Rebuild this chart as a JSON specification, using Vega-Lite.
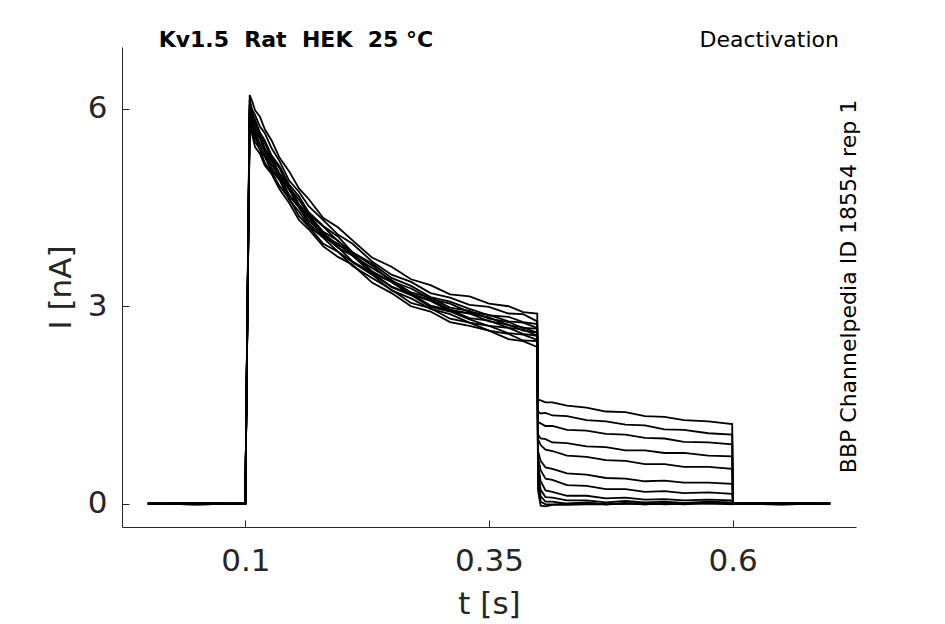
{
  "$schema": "https://vega.github.io/schema/vega-lite/v6.json",
  "width": 734,
  "height": 480,
  "autosize": "none",
  "padding": {"left": 122, "top": 47, "right": 89, "bottom": 97},
  "background": "white",
  "config": {"view": {"stroke": null}, "font": "DejaVu Sans"},
  "datasets": {
    "traces": [
      {"s":1,"t":0,"i":0},{"s":1,"t":0.05,"i":0.01},{"s":1,"t":0.1,"i":0},
      {"s":1,"t":0.1045,"i":6.21},{"s":1,"t":0.107,"i":6.12},{"s":1,"t":0.11,"i":5.98},{"s":1,"t":0.115,"i":5.88},{"s":1,"t":0.12,"i":5.69},{"s":1,"t":0.127,"i":5.52},{"s":1,"t":0.135,"i":5.26},{"s":1,"t":0.145,"i":5.05},{"s":1,"t":0.155,"i":4.79},{"s":1,"t":0.165,"i":4.63},{"s":1,"t":0.18,"i":4.34},{"s":1,"t":0.195,"i":4.2},{"s":1,"t":0.21,"i":4.0},{"s":1,"t":0.23,"i":3.74},{"s":1,"t":0.25,"i":3.6},{"s":1,"t":0.27,"i":3.41},{"s":1,"t":0.29,"i":3.32},{"s":1,"t":0.31,"i":3.18},{"s":1,"t":0.33,"i":3.15},{"s":1,"t":0.35,"i":3.04},{"s":1,"t":0.37,"i":3.0},{"s":1,"t":0.385,"i":2.91},{"s":1,"t":0.3995,"i":2.89},
      {"s":1,"t":0.4003,"i":0.2},{"s":1,"t":0.403,"i":-0.03},{"s":1,"t":0.408,"i":-0.04},{"s":1,"t":0.415,"i":-0.02},{"s":1,"t":0.43,"i":-0.02},{"s":1,"t":0.45,"i":-0.01},{"s":1,"t":0.47,"i":-0.01},{"s":1,"t":0.49,"i":0},{"s":1,"t":0.51,"i":-0.01},{"s":1,"t":0.53,"i":0},{"s":1,"t":0.55,"i":0.01},{"s":1,"t":0.575,"i":0},{"s":1,"t":0.5995,"i":0},
      {"s":1,"t":0.6003,"i":0},{"s":1,"t":0.65,"i":-0.01},{"s":1,"t":0.7,"i":0},

      {"s":2,"t":0,"i":0},{"s":2,"t":0.05,"i":-0.01},{"s":2,"t":0.1,"i":0},
      {"s":2,"t":0.1045,"i":6.14},{"s":2,"t":0.107,"i":5.99},{"s":2,"t":0.11,"i":5.91},{"s":2,"t":0.115,"i":5.73},{"s":2,"t":0.12,"i":5.63},{"s":2,"t":0.127,"i":5.4},{"s":2,"t":0.135,"i":5.21},{"s":2,"t":0.145,"i":4.91},{"s":2,"t":0.155,"i":4.74},{"s":2,"t":0.165,"i":4.52},{"s":2,"t":0.18,"i":4.31},{"s":2,"t":0.195,"i":4.09},{"s":2,"t":0.21,"i":3.95},{"s":2,"t":0.23,"i":3.68},{"s":2,"t":0.25,"i":3.48},{"s":2,"t":0.27,"i":3.37},{"s":2,"t":0.29,"i":3.2},{"s":2,"t":0.31,"i":3.13},{"s":2,"t":0.33,"i":3.02},{"s":2,"t":0.35,"i":2.99},{"s":2,"t":0.37,"i":2.89},{"s":2,"t":0.385,"i":2.88},{"s":2,"t":0.3995,"i":2.77},
      {"s":2,"t":0.4003,"i":0.3},{"s":2,"t":0.403,"i":0.03},{"s":2,"t":0.408,"i":-0.01},{"s":2,"t":0.415,"i":-0.01},{"s":2,"t":0.43,"i":0},{"s":2,"t":0.45,"i":0.01},{"s":2,"t":0.47,"i":-0.01},{"s":2,"t":0.49,"i":0},{"s":2,"t":0.51,"i":0.01},{"s":2,"t":0.53,"i":-0.01},{"s":2,"t":0.55,"i":0},{"s":2,"t":0.575,"i":0.01},{"s":2,"t":0.5995,"i":-0.01},
      {"s":2,"t":0.6003,"i":0},{"s":2,"t":0.65,"i":0.01},{"s":2,"t":0.7,"i":0},

      {"s":3,"t":0,"i":0},{"s":3,"t":0.05,"i":0},{"s":3,"t":0.1,"i":0},
      {"s":3,"t":0.1045,"i":6.07},{"s":3,"t":0.107,"i":5.94},{"s":3,"t":0.11,"i":5.84},{"s":3,"t":0.115,"i":5.64},{"s":3,"t":0.12,"i":5.52},{"s":3,"t":0.127,"i":5.29},{"s":3,"t":0.135,"i":5.13},{"s":3,"t":0.145,"i":4.85},{"s":3,"t":0.155,"i":4.67},{"s":3,"t":0.165,"i":4.43},{"s":3,"t":0.18,"i":4.22},{"s":3,"t":0.195,"i":4.06},{"s":3,"t":0.21,"i":3.82},{"s":3,"t":0.23,"i":3.65},{"s":3,"t":0.25,"i":3.43},{"s":3,"t":0.27,"i":3.31},{"s":3,"t":0.29,"i":3.14},{"s":3,"t":0.31,"i":3.07},{"s":3,"t":0.33,"i":2.96},{"s":3,"t":0.35,"i":2.86},{"s":3,"t":0.37,"i":2.84},{"s":3,"t":0.385,"i":2.76},{"s":3,"t":0.3995,"i":2.73},
      {"s":3,"t":0.4003,"i":0.4},{"s":3,"t":0.403,"i":0.11},{"s":3,"t":0.408,"i":0.03},{"s":3,"t":0.415,"i":0.03},{"s":3,"t":0.43,"i":0},{"s":3,"t":0.45,"i":0.02},{"s":3,"t":0.47,"i":-0.01},{"s":3,"t":0.49,"i":0.01},{"s":3,"t":0.51,"i":-0.01},{"s":3,"t":0.53,"i":0.01},{"s":3,"t":0.55,"i":-0.01},{"s":3,"t":0.575,"i":0.01},{"s":3,"t":0.5995,"i":0},
      {"s":3,"t":0.6003,"i":0},{"s":3,"t":0.65,"i":0},{"s":3,"t":0.7,"i":0},

      {"s":4,"t":0,"i":0},{"s":4,"t":0.05,"i":0.01},{"s":4,"t":0.1,"i":0},
      {"s":4,"t":0.1045,"i":6.04},{"s":4,"t":0.107,"i":5.88},{"s":4,"t":0.11,"i":5.79},{"s":4,"t":0.115,"i":5.59},{"s":4,"t":0.12,"i":5.48},{"s":4,"t":0.127,"i":5.26},{"s":4,"t":0.135,"i":5.1},{"s":4,"t":0.145,"i":4.8},{"s":4,"t":0.155,"i":4.62},{"s":4,"t":0.165,"i":4.4},{"s":4,"t":0.18,"i":4.21},{"s":4,"t":0.195,"i":3.99},{"s":4,"t":0.21,"i":3.82},{"s":4,"t":0.23,"i":3.62},{"s":4,"t":0.25,"i":3.38},{"s":4,"t":0.27,"i":3.27},{"s":4,"t":0.29,"i":3.11},{"s":4,"t":0.31,"i":3.04},{"s":4,"t":0.33,"i":2.91},{"s":4,"t":0.35,"i":2.87},{"s":4,"t":0.37,"i":2.77},{"s":4,"t":0.385,"i":2.75},{"s":4,"t":0.3995,"i":2.67},
      {"s":4,"t":0.4003,"i":0.5},{"s":4,"t":0.403,"i":0.21},{"s":4,"t":0.408,"i":0.1},{"s":4,"t":0.415,"i":0.09},{"s":4,"t":0.43,"i":0.05},{"s":4,"t":0.45,"i":0.05},{"s":4,"t":0.47,"i":0.02},{"s":4,"t":0.49,"i":0.04},{"s":4,"t":0.51,"i":0.02},{"s":4,"t":0.53,"i":0.03},{"s":4,"t":0.55,"i":0.01},{"s":4,"t":0.575,"i":0.03},{"s":4,"t":0.5995,"i":0.02},
      {"s":4,"t":0.6003,"i":0},{"s":4,"t":0.65,"i":0},{"s":4,"t":0.7,"i":0},

      {"s":5,"t":0,"i":0},{"s":5,"t":0.05,"i":-0.01},{"s":5,"t":0.1,"i":0},
      {"s":5,"t":0.1045,"i":6.01},{"s":5,"t":0.107,"i":5.88},{"s":5,"t":0.11,"i":5.72},{"s":5,"t":0.115,"i":5.6},{"s":5,"t":0.12,"i":5.4},{"s":5,"t":0.127,"i":5.25},{"s":5,"t":0.135,"i":5.02},{"s":5,"t":0.145,"i":4.82},{"s":5,"t":0.155,"i":4.55},{"s":5,"t":0.165,"i":4.39},{"s":5,"t":0.18,"i":4.13},{"s":5,"t":0.195,"i":4.0},{"s":5,"t":0.21,"i":3.77},{"s":5,"t":0.23,"i":3.58},{"s":5,"t":0.25,"i":3.4},{"s":5,"t":0.27,"i":3.21},{"s":5,"t":0.29,"i":3.13},{"s":5,"t":0.31,"i":2.98},{"s":5,"t":0.33,"i":2.93},{"s":5,"t":0.35,"i":2.81},{"s":5,"t":0.37,"i":2.76},{"s":5,"t":0.385,"i":2.67},{"s":5,"t":0.3995,"i":2.66},
      {"s":5,"t":0.4003,"i":0.6},{"s":5,"t":0.403,"i":0.34},{"s":5,"t":0.408,"i":0.2},{"s":5,"t":0.415,"i":0.18},{"s":5,"t":0.43,"i":0.12},{"s":5,"t":0.45,"i":0.12},{"s":5,"t":0.47,"i":0.08},{"s":5,"t":0.49,"i":0.09},{"s":5,"t":0.51,"i":0.06},{"s":5,"t":0.53,"i":0.07},{"s":5,"t":0.55,"i":0.05},{"s":5,"t":0.575,"i":0.06},{"s":5,"t":0.5995,"i":0.05},
      {"s":5,"t":0.6003,"i":0},{"s":5,"t":0.65,"i":0.01},{"s":5,"t":0.7,"i":0},

      {"s":6,"t":0,"i":0},{"s":6,"t":0.05,"i":0},{"s":6,"t":0.1,"i":0},
      {"s":6,"t":0.1045,"i":5.98},{"s":6,"t":0.107,"i":5.83},{"s":6,"t":0.11,"i":5.67},{"s":6,"t":0.115,"i":5.57},{"s":6,"t":0.12,"i":5.39},{"s":6,"t":0.127,"i":5.24},{"s":6,"t":0.135,"i":5.0},{"s":6,"t":0.145,"i":4.78},{"s":6,"t":0.155,"i":4.52},{"s":6,"t":0.165,"i":4.38},{"s":6,"t":0.18,"i":4.11},{"s":6,"t":0.195,"i":3.93},{"s":6,"t":0.21,"i":3.81},{"s":6,"t":0.23,"i":3.53},{"s":6,"t":0.25,"i":3.37},{"s":6,"t":0.27,"i":3.18},{"s":6,"t":0.29,"i":3.1},{"s":6,"t":0.31,"i":2.95},{"s":6,"t":0.33,"i":2.89},{"s":6,"t":0.35,"i":2.83},{"s":6,"t":0.37,"i":2.71},{"s":6,"t":0.385,"i":2.68},{"s":6,"t":0.3995,"i":2.6},
      {"s":6,"t":0.4003,"i":0.7},{"s":6,"t":0.403,"i":0.51},{"s":6,"t":0.408,"i":0.38},{"s":6,"t":0.415,"i":0.36},{"s":6,"t":0.43,"i":0.28},{"s":6,"t":0.45,"i":0.27},{"s":6,"t":0.47,"i":0.22},{"s":6,"t":0.49,"i":0.22},{"s":6,"t":0.51,"i":0.18},{"s":6,"t":0.53,"i":0.19},{"s":6,"t":0.55,"i":0.16},{"s":6,"t":0.575,"i":0.17},{"s":6,"t":0.5995,"i":0.15},
      {"s":6,"t":0.6003,"i":0},{"s":6,"t":0.65,"i":-0.01},{"s":6,"t":0.7,"i":0},

      {"s":7,"t":0,"i":0},{"s":7,"t":0.05,"i":0.01},{"s":7,"t":0.1,"i":0},
      {"s":7,"t":0.1045,"i":5.96},{"s":7,"t":0.107,"i":5.83},{"s":7,"t":0.11,"i":5.65},{"s":7,"t":0.115,"i":5.55},{"s":7,"t":0.12,"i":5.36},{"s":7,"t":0.127,"i":5.21},{"s":7,"t":0.135,"i":4.97},{"s":7,"t":0.145,"i":4.77},{"s":7,"t":0.155,"i":4.51},{"s":7,"t":0.165,"i":4.35},{"s":7,"t":0.18,"i":4.07},{"s":7,"t":0.195,"i":3.95},{"s":7,"t":0.21,"i":3.77},{"s":7,"t":0.23,"i":3.51},{"s":7,"t":0.25,"i":3.37},{"s":7,"t":0.27,"i":3.18},{"s":7,"t":0.29,"i":3.08},{"s":7,"t":0.31,"i":2.93},{"s":7,"t":0.33,"i":2.89},{"s":7,"t":0.35,"i":2.77},{"s":7,"t":0.37,"i":2.72},{"s":7,"t":0.385,"i":2.63},{"s":7,"t":0.3995,"i":2.6},
      {"s":7,"t":0.4003,"i":0.8},{"s":7,"t":0.403,"i":0.65},{"s":7,"t":0.408,"i":0.55},{"s":7,"t":0.415,"i":0.53},{"s":7,"t":0.43,"i":0.46},{"s":7,"t":0.45,"i":0.44},{"s":7,"t":0.47,"i":0.39},{"s":7,"t":0.49,"i":0.38},{"s":7,"t":0.51,"i":0.34},{"s":7,"t":0.53,"i":0.35},{"s":7,"t":0.55,"i":0.32},{"s":7,"t":0.575,"i":0.32},{"s":7,"t":0.5995,"i":0.3},
      {"s":7,"t":0.6003,"i":0},{"s":7,"t":0.65,"i":0},{"s":7,"t":0.7,"i":0},

      {"s":8,"t":0,"i":0},{"s":8,"t":0.05,"i":-0.01},{"s":8,"t":0.1,"i":0},
      {"s":8,"t":0.1045,"i":5.94},{"s":8,"t":0.107,"i":5.77},{"s":8,"t":0.11,"i":5.65},{"s":8,"t":0.115,"i":5.47},{"s":8,"t":0.12,"i":5.37},{"s":8,"t":0.127,"i":5.15},{"s":8,"t":0.135,"i":4.99},{"s":8,"t":0.145,"i":4.69},{"s":8,"t":0.155,"i":4.52},{"s":8,"t":0.165,"i":4.3},{"s":8,"t":0.18,"i":4.1},{"s":8,"t":0.195,"i":3.89},{"s":8,"t":0.21,"i":3.77},{"s":8,"t":0.23,"i":3.5},{"s":8,"t":0.25,"i":3.3},{"s":8,"t":0.27,"i":3.19},{"s":8,"t":0.29,"i":3.01},{"s":8,"t":0.31,"i":2.94},{"s":8,"t":0.33,"i":2.82},{"s":8,"t":0.35,"i":2.78},{"s":8,"t":0.37,"i":2.67},{"s":8,"t":0.385,"i":2.65},{"s":8,"t":0.3995,"i":2.55},
      {"s":8,"t":0.4003,"i":0.98},{"s":8,"t":0.403,"i":0.89},{"s":8,"t":0.408,"i":0.82},{"s":8,"t":0.415,"i":0.8},{"s":8,"t":0.43,"i":0.73},{"s":8,"t":0.45,"i":0.71},{"s":8,"t":0.47,"i":0.66},{"s":8,"t":0.49,"i":0.65},{"s":8,"t":0.51,"i":0.6},{"s":8,"t":0.53,"i":0.6},{"s":8,"t":0.55,"i":0.56},{"s":8,"t":0.575,"i":0.56},{"s":8,"t":0.5995,"i":0.53},
      {"s":8,"t":0.6003,"i":0},{"s":8,"t":0.65,"i":0.01},{"s":8,"t":0.7,"i":0},

      {"s":9,"t":0,"i":0},{"s":9,"t":0.05,"i":0},{"s":9,"t":0.1,"i":0},
      {"s":9,"t":0.1045,"i":5.91},{"s":9,"t":0.107,"i":5.76},{"s":9,"t":0.11,"i":5.63},{"s":9,"t":0.115,"i":5.43},{"s":9,"t":0.12,"i":5.31},{"s":9,"t":0.127,"i":5.1},{"s":9,"t":0.135,"i":4.95},{"s":9,"t":0.145,"i":4.68},{"s":9,"t":0.155,"i":4.5},{"s":9,"t":0.165,"i":4.26},{"s":9,"t":0.18,"i":4.06},{"s":9,"t":0.195,"i":3.9},{"s":9,"t":0.21,"i":3.68},{"s":9,"t":0.23,"i":3.51},{"s":9,"t":0.25,"i":3.29},{"s":9,"t":0.27,"i":3.17},{"s":9,"t":0.29,"i":2.99},{"s":9,"t":0.31,"i":2.92},{"s":9,"t":0.33,"i":2.8},{"s":9,"t":0.35,"i":2.7},{"s":9,"t":0.37,"i":2.67},{"s":9,"t":0.385,"i":2.58},{"s":9,"t":0.3995,"i":2.55},
      {"s":9,"t":0.4003,"i":1.05},{"s":9,"t":0.403,"i":0.99},{"s":9,"t":0.408,"i":0.98},{"s":9,"t":0.415,"i":0.93},{"s":9,"t":0.43,"i":0.92},{"s":9,"t":0.45,"i":0.87},{"s":9,"t":0.47,"i":0.86},{"s":9,"t":0.49,"i":0.81},{"s":9,"t":0.51,"i":0.81},{"s":9,"t":0.53,"i":0.77},{"s":9,"t":0.55,"i":0.77},{"s":9,"t":0.575,"i":0.73},{"s":9,"t":0.5995,"i":0.72},
      {"s":9,"t":0.6003,"i":0},{"s":9,"t":0.65,"i":0},{"s":9,"t":0.7,"i":0},

      {"s":10,"t":0,"i":0},{"s":10,"t":0.05,"i":0.01},{"s":10,"t":0.1,"i":0},
      {"s":10,"t":0.1045,"i":5.88},{"s":10,"t":0.107,"i":5.7},{"s":10,"t":0.11,"i":5.58},{"s":10,"t":0.115,"i":5.38},{"s":10,"t":0.12,"i":5.27},{"s":10,"t":0.127,"i":5.06},{"s":10,"t":0.135,"i":4.92},{"s":10,"t":0.145,"i":4.62},{"s":10,"t":0.155,"i":4.44},{"s":10,"t":0.165,"i":4.22},{"s":10,"t":0.18,"i":4.04},{"s":10,"t":0.195,"i":3.83},{"s":10,"t":0.21,"i":3.67},{"s":10,"t":0.23,"i":3.48},{"s":10,"t":0.25,"i":3.24},{"s":10,"t":0.27,"i":3.12},{"s":10,"t":0.29,"i":2.96},{"s":10,"t":0.31,"i":2.88},{"s":10,"t":0.33,"i":2.75},{"s":10,"t":0.35,"i":2.7},{"s":10,"t":0.37,"i":2.59},{"s":10,"t":0.385,"i":2.57},{"s":10,"t":0.3995,"i":2.49},
      {"s":10,"t":0.4003,"i":1.24},{"s":10,"t":0.403,"i":1.22},{"s":10,"t":0.408,"i":1.18},{"s":10,"t":0.415,"i":1.18},{"s":10,"t":0.43,"i":1.12},{"s":10,"t":0.45,"i":1.11},{"s":10,"t":0.47,"i":1.06},{"s":10,"t":0.49,"i":1.05},{"s":10,"t":0.51,"i":1.0},{"s":10,"t":0.53,"i":0.99},{"s":10,"t":0.55,"i":0.94},{"s":10,"t":0.575,"i":0.93},{"s":10,"t":0.5995,"i":0.9},
      {"s":10,"t":0.6003,"i":0},{"s":10,"t":0.65,"i":-0.01},{"s":10,"t":0.7,"i":0},

      {"s":11,"t":0,"i":0},{"s":11,"t":0.05,"i":0},{"s":11,"t":0.1,"i":0},
      {"s":11,"t":0.1045,"i":5.84},{"s":11,"t":0.107,"i":5.69},{"s":11,"t":0.11,"i":5.5},{"s":11,"t":0.115,"i":5.38},{"s":11,"t":0.12,"i":5.18},{"s":11,"t":0.127,"i":5.04},{"s":11,"t":0.135,"i":4.83},{"s":11,"t":0.145,"i":4.64},{"s":11,"t":0.155,"i":4.37},{"s":11,"t":0.165,"i":4.21},{"s":11,"t":0.18,"i":3.95},{"s":11,"t":0.195,"i":3.83},{"s":11,"t":0.21,"i":3.61},{"s":11,"t":0.23,"i":3.43},{"s":11,"t":0.25,"i":3.25},{"s":11,"t":0.27,"i":3.05},{"s":11,"t":0.29,"i":2.97},{"s":11,"t":0.31,"i":2.81},{"s":11,"t":0.33,"i":2.75},{"s":11,"t":0.35,"i":2.63},{"s":11,"t":0.37,"i":2.58},{"s":11,"t":0.385,"i":2.48},{"s":11,"t":0.3995,"i":2.47},
      {"s":11,"t":0.4003,"i":1.4},{"s":11,"t":0.403,"i":1.37},{"s":11,"t":0.408,"i":1.38},{"s":11,"t":0.415,"i":1.34},{"s":11,"t":0.43,"i":1.33},{"s":11,"t":0.45,"i":1.27},{"s":11,"t":0.47,"i":1.25},{"s":11,"t":0.49,"i":1.2},{"s":11,"t":0.51,"i":1.19},{"s":11,"t":0.53,"i":1.13},{"s":11,"t":0.55,"i":1.12},{"s":11,"t":0.575,"i":1.07},{"s":11,"t":0.5995,"i":1.05},
      {"s":11,"t":0.6003,"i":0},{"s":11,"t":0.65,"i":0.01},{"s":11,"t":0.7,"i":0},

      {"s":12,"t":0,"i":0},{"s":12,"t":0.05,"i":-0.01},{"s":12,"t":0.1,"i":0},
      {"s":12,"t":0.1045,"i":5.8},{"s":12,"t":0.107,"i":5.61},{"s":12,"t":0.11,"i":5.42},{"s":12,"t":0.115,"i":5.32},{"s":12,"t":0.12,"i":5.14},{"s":12,"t":0.127,"i":5.01},{"s":12,"t":0.135,"i":4.78},{"s":12,"t":0.145,"i":4.57},{"s":12,"t":0.155,"i":4.31},{"s":12,"t":0.165,"i":4.17},{"s":12,"t":0.18,"i":3.91},{"s":12,"t":0.195,"i":3.75},{"s":12,"t":0.21,"i":3.63},{"s":12,"t":0.23,"i":3.36},{"s":12,"t":0.25,"i":3.2},{"s":12,"t":0.27,"i":3.0},{"s":12,"t":0.29,"i":2.92},{"s":12,"t":0.31,"i":2.76},{"s":12,"t":0.33,"i":2.7},{"s":12,"t":0.35,"i":2.63},{"s":12,"t":0.37,"i":2.5},{"s":12,"t":0.385,"i":2.47},{"s":12,"t":0.3995,"i":2.38},
      {"s":12,"t":0.4003,"i":1.58},{"s":12,"t":0.403,"i":1.57},{"s":12,"t":0.408,"i":1.54},{"s":12,"t":0.415,"i":1.54},{"s":12,"t":0.43,"i":1.49},{"s":12,"t":0.45,"i":1.46},{"s":12,"t":0.47,"i":1.4},{"s":12,"t":0.49,"i":1.39},{"s":12,"t":0.51,"i":1.33},{"s":12,"t":0.53,"i":1.32},{"s":12,"t":0.55,"i":1.27},{"s":12,"t":0.575,"i":1.25},{"s":12,"t":0.5995,"i":1.21},
      {"s":12,"t":0.6003,"i":0},{"s":12,"t":0.65,"i":0},{"s":12,"t":0.7,"i":0}
    ]
  },
  "layer": [
    {
      "data": {"name": "traces"},
      "mark": {"type": "line", "color": "black", "strokeWidth": 1.8},
      "encoding": {
        "x": {
          "field": "t",
          "type": "quantitative",
          "scale": {"domain": [-0.0265, 0.7265], "nice": false, "zero": false},
          "axis": {
            "values": [0.1, 0.35, 0.6],
            "format": "~g",
            "grid": false,
            "title": "t [s]",
            "domainColor": "#262626",
            "tickColor": "#262626",
            "tickSize": -7,
            "labelFontSize": 31,
            "labelColor": "#262626",
            "labelFont": "DejaVu Sans",
            "labelPadding": 26,
            "titleFontSize": 31,
            "titleFontWeight": "normal",
            "titleColor": "#262626",
            "titleFont": "DejaVu Sans",
            "titlePadding": 13
          }
        },
        "y": {
          "field": "i",
          "type": "quantitative",
          "scale": {"domain": [-0.355, 6.94], "nice": false, "zero": false},
          "axis": {
            "values": [0, 3, 6],
            "format": "~g",
            "grid": false,
            "title": "I [nA]",
            "domainColor": "#262626",
            "tickColor": "#262626",
            "tickSize": -7,
            "labelFontSize": 31,
            "labelColor": "#262626",
            "labelFont": "DejaVu Sans",
            "labelPadding": 22,
            "titleFontSize": 31,
            "titleFontWeight": "normal",
            "titleColor": "#262626",
            "titleFont": "DejaVu Sans",
            "titlePadding": 10
          }
        },
        "detail": {"field": "s", "type": "nominal"},
        "order": {"field": "t", "type": "quantitative"}
      }
    },
    {
      "data": {"values": [{}]},
      "mark": {"type": "text", "text": "Kv1.5\u00a0\u00a0Rat\u00a0\u00a0HEK\u00a0\u00a025\u00a0°C", "align": "left", "baseline": "alphabetic", "fontSize": 22, "fontWeight": "bold", "font": "DejaVu Sans", "color": "black"},
      "encoding": {
        "x": {"datum": 0.0111, "type": "quantitative"},
        "y": {"datum": 6.94, "type": "quantitative"}
      }
    },
    {
      "data": {"values": [{}]},
      "mark": {"type": "text", "text": "Deactivation", "align": "right", "baseline": "alphabetic", "fontSize": 22, "font": "DejaVu Sans", "color": "black"},
      "encoding": {
        "x": {"datum": 0.709, "type": "quantitative"},
        "y": {"datum": 6.94, "type": "quantitative"}
      }
    },
    {
      "data": {"values": [{}]},
      "mark": {"type": "text", "text": "BBP Channelpedia ID 18554 rep 1", "angle": 270, "align": "center", "baseline": "alphabetic", "fontSize": 22, "font": "DejaVu Sans", "color": "black"},
      "encoding": {
        "x": {"datum": 0.7265, "type": "quantitative"},
        "y": {"datum": 3.3, "type": "quantitative"}
      }
    }
  ]
}
